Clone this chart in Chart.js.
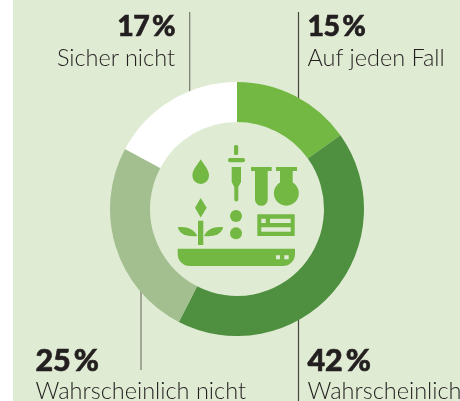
<!DOCTYPE html>
<html lang="de"><head><meta charset="utf-8">
<script src="https://cdn.jsdelivr.net/npm/chart.js@4"></script>
<style>
html,body{margin:0;padding:0;background:#fff;overflow:hidden}
#stage{position:absolute;left:13px;top:0;width:447px;height:401px;background:#e0ebd3}
canvas#c{position:absolute;left:110px;top:82px}
svg{position:absolute;left:0;top:0}
.t{position:absolute;white-space:nowrap;color:#231f20;font-family:Lato,sans-serif}
.p{font-weight:900;font-size:30.5px;line-height:30px;letter-spacing:-.3px;-webkit-text-stroke:.6px #231f20}
.p.top{font-size:28.5px;letter-spacing:-.6px}
.l{font-weight:300;font-size:23.5px;line-height:28px}
</style></head><body>
<div id="stage"></div>
<svg width="460" height="401" viewBox="0 0 460 401">
<g stroke-width="1.2">
<line stroke="#77786f" x1="189.7" y1="12" x2="189.7" y2="92"/><line stroke="#454541" x1="298.5" y1="12" x2="298.5" y2="99"/>
<line stroke="#77786f" x1="141" y1="290" x2="141" y2="370"/><line stroke="#454541" x1="298.5" y1="318" x2="298.5" y2="401"/></g>
</svg>
<canvas id="c" width="254" height="254"></canvas>
<svg width="460" height="401" viewBox="0 0 460 401"><g fill="#72b843">
<path d="M200.7 159.3C203 164 209 169 209 175.7A8.3 8.3 0 0 1 192.4 175.7C192.4 169 198.4 164 200.7 159.3Z"/>
<rect x="234" y="145" width="4.2" height="10" rx="1.5"/><rect x="228" y="158" width="17" height="4.2" rx="2"/>
<path d="M231.7 167H241V182L238.3 187V199.5A2 2 0 0 1 234.3 199.5V187L231.7 182Z"/>
<path d="M251 167H271.7V171H267.7V199.5A6.3 6.3 0 0 1 255 199.5V171H251Z"/>
<path d="M276 167H297V171H292.7V182.5A12.5 12.5 0 1 1 280 182.5V171H276Z"/>
<path d="M200.7 198L206.7 207.7L200.7 217.5L195 207.7Z"/>
<rect x="198" y="220.7" width="5.3" height="24.3"/>
<path d="M177.7 227.3C186 226 194 229 197.3 236C188 237 180 235 177.7 227.3Z"/>
<path d="M223.3 227.3C215 226 207 229 204 236C213 237 221 235 223.3 227.3Z"/>
<circle cx="236" cy="216" r="6"/><circle cx="236" cy="233.3" r="6"/>
<path fill-rule="evenodd" d="M257.3 214.3H294.7V236H257.3ZM261.3 218.7V223H265.7V218.7ZM270 218.7V223H290.7V218.7ZM261.3 227.3V231.7H290.7V227.3Z"/>
<path fill-rule="evenodd" d="M177.7 248.7H295V254A12 12 0 0 1 283 266H189.7A12 12 0 0 1 177.7 254ZM276 255.3V259.3H280V255.3ZM284.3 255.3V259.3H288.7V255.3Z"/>
</g></svg>
<div id="labels"></div>
<script>
const categories=["Auf jeden Fall","Wahrscheinlich","Wahrscheinlich nicht","Sicher nicht"];
const values=[15,42,25,17];
const colors=["#72b843","#4f9040","#a3bf90","#ffffff"];
new Chart(document.getElementById("c"),{type:"doughnut",
 data:{labels:categories,datasets:[{data:values,backgroundColor:colors,borderWidth:0}]},
 options:{responsive:false,animation:false,cutout:"68.5%",layout:{padding:0},
  plugins:{legend:{display:false},tooltip:{enabled:false}}}});
const pos=[{x:307.5,y:10,ly:43,cl:"top"},{x:307.5,y:344,ly:376,cl:""},{x:35.5,y:344,ly:376,cl:""},{r:285,y:10,ly:43,cl:"top"}];
const box=document.getElementById("labels");
categories.forEach((c,i)=>{const q=pos[i];
 [[values[i]+"\u2009%","p "+q.cl,q.y],[c,"l",q.ly]].forEach(([txt,cl,y])=>{
  const d=document.createElement("div");d.className="t "+cl;d.textContent=txt;d.style.top=y+"px";
  if(q.r!==undefined)d.style.right=(460-175)+"px";else d.style.left=q.x+"px";
  box.appendChild(d);});});
</script>
</body></html>
